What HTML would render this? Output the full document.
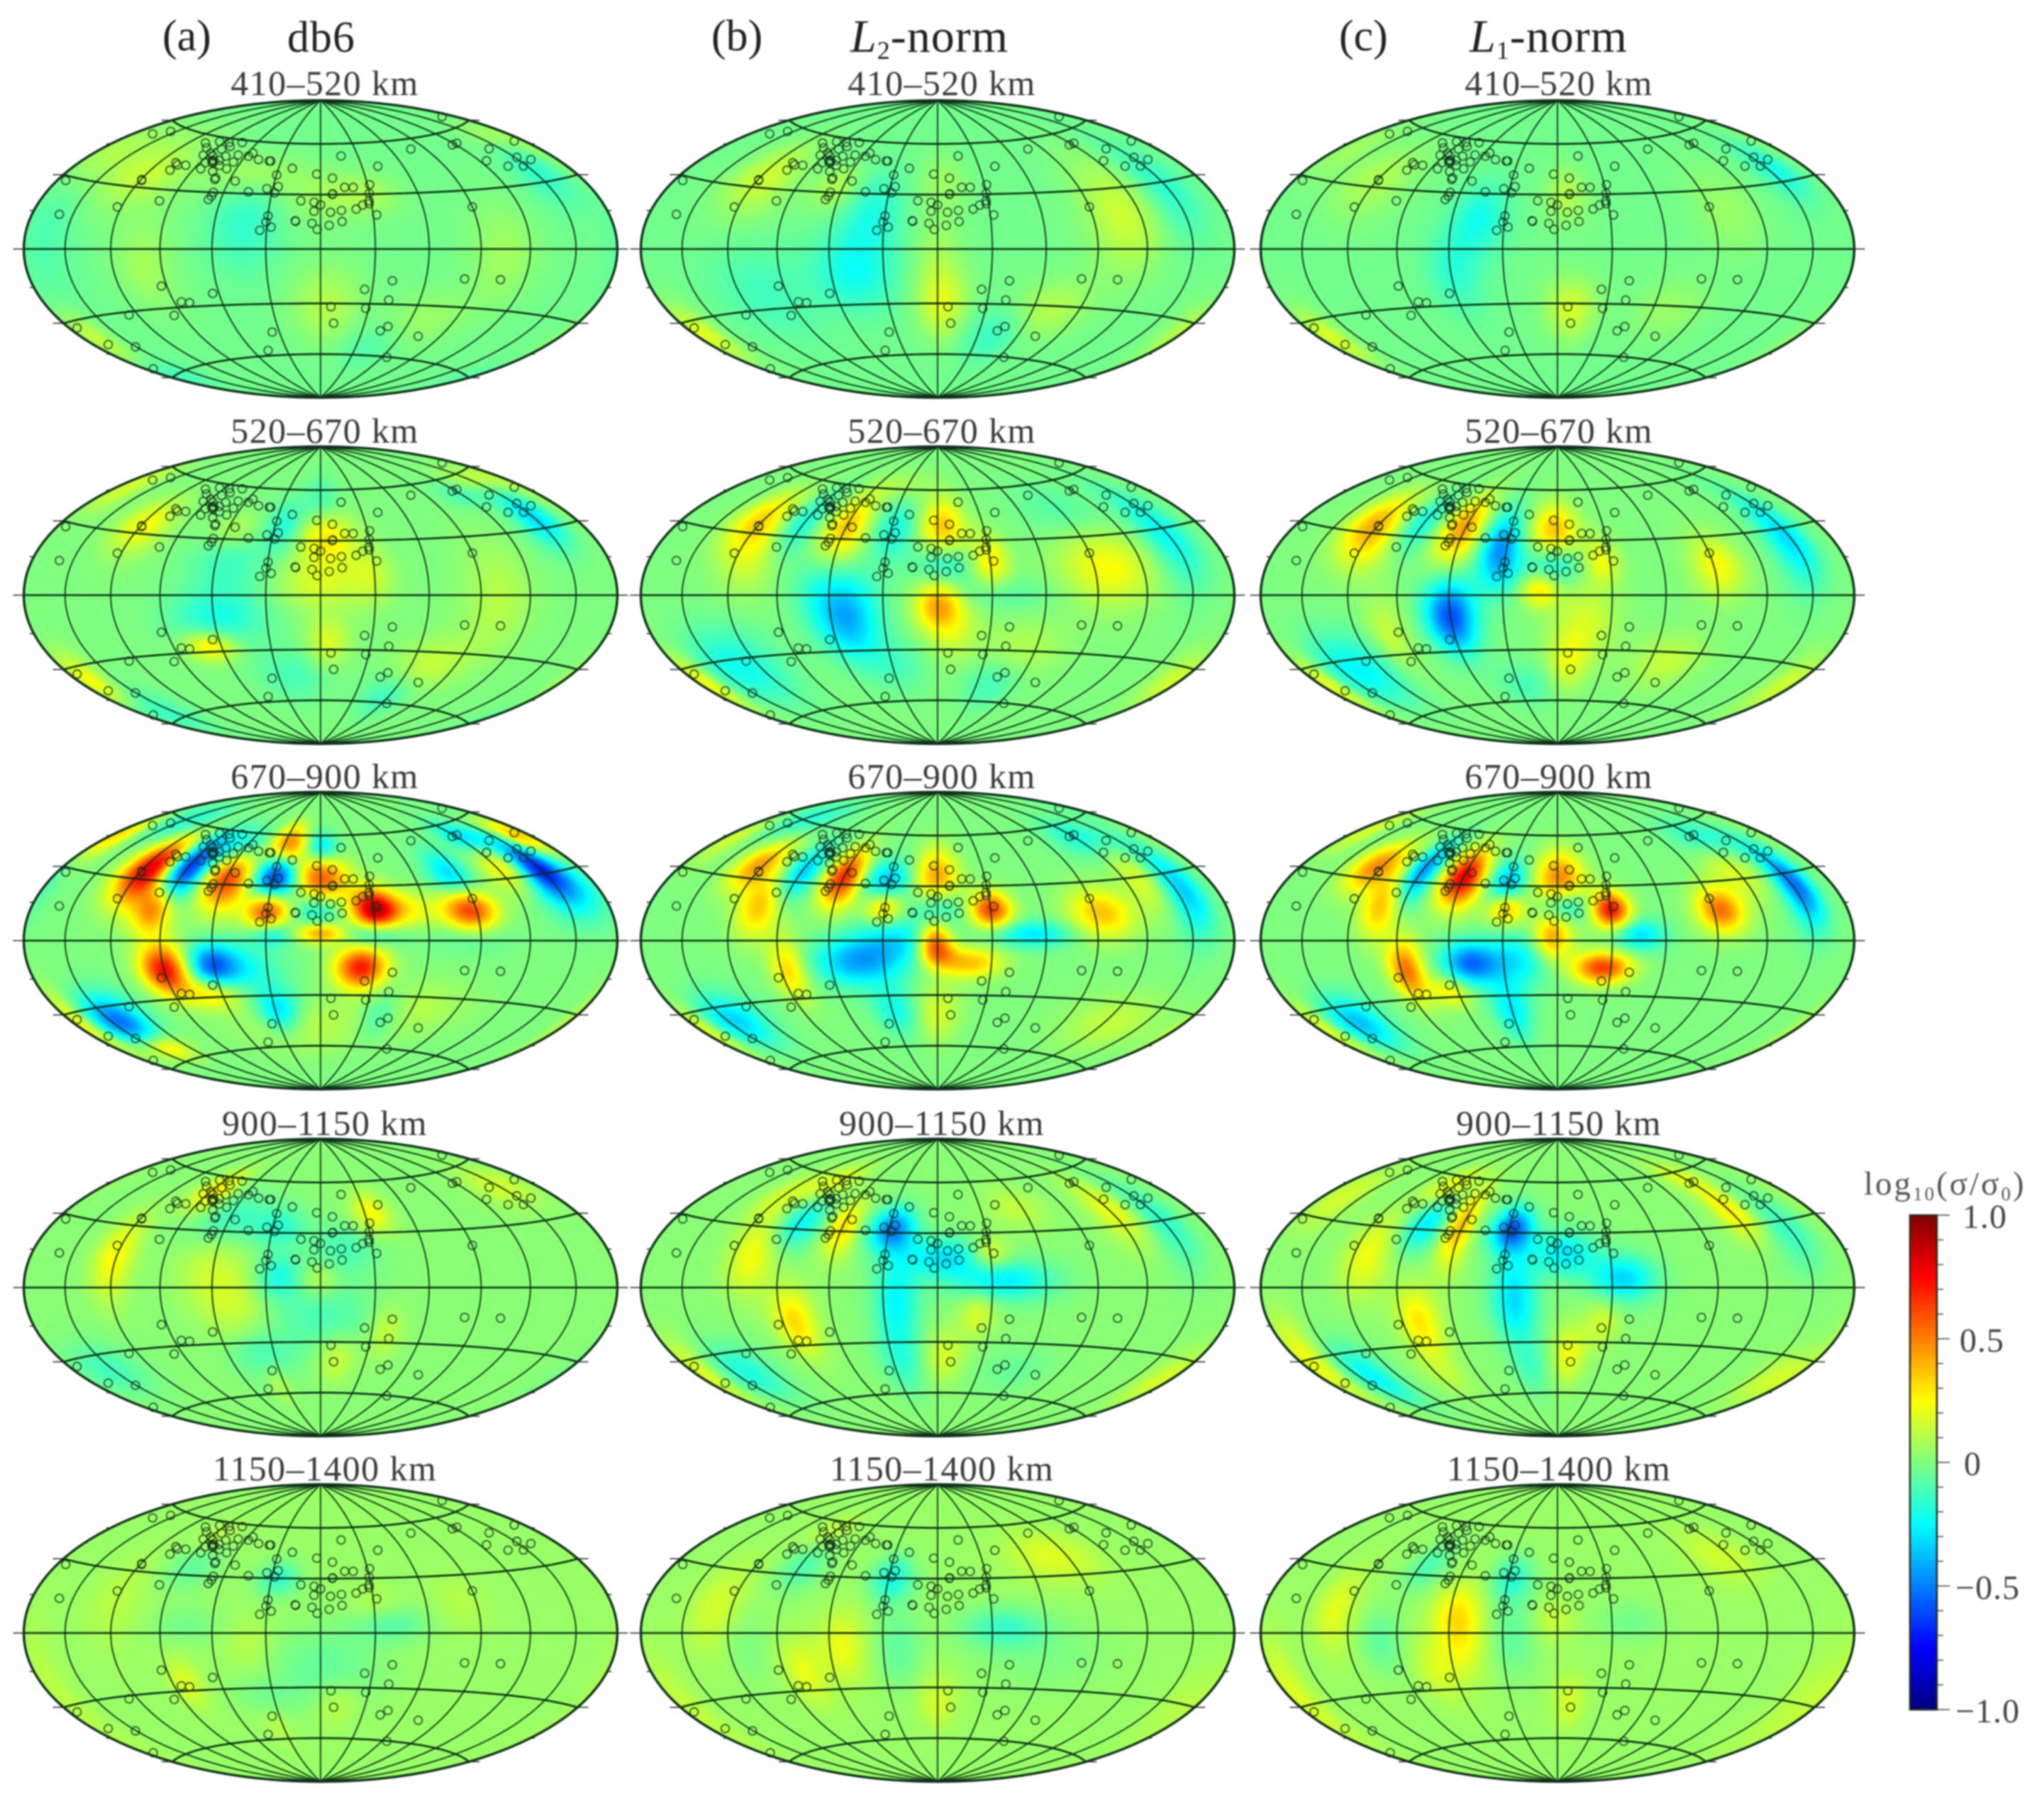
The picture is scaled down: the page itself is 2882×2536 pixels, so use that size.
<!DOCTYPE html>
<html lang="en">
<head>
<meta charset="utf-8">
<title>Conductivity anomaly maps</title>
<style>
html,body{margin:0;padding:0;background:#fff;}
#figure{position:relative;width:2882px;height:2536px;overflow:hidden;background:#fff;filter:blur(1.1px);}
#figure canvas{position:absolute;display:block;}
#overlay{position:absolute;left:0;top:0;}
text{font-family:"Liberation Serif",serif;}
</style>
</head>
<body>
<div id="figure">
<svg id="overlay" width="2882" height="2536" viewBox="0 0 2882 2536">
  <g fill="#222" font-size="62">
    <text x="229" y="71">(a)</text>
    <text x="405" y="73" letter-spacing="1">db6</text>
    <text x="1003" y="71">(b)</text>
    <text x="1199" y="73" font-size="66" letter-spacing="1"><tspan font-style="italic">L</tspan><tspan dy="10" font-size="36">2</tspan><tspan dy="-10">-norm</tspan></text>
    <text x="1888" y="71">(c)</text>
    <text x="2072" y="73" font-size="66" letter-spacing="1"><tspan font-style="italic">L</tspan><tspan dy="10" font-size="36">1</tspan><tspan dy="-10">-norm</tspan></text>
  </g>
  <g id="maps"></g>
  <g id="colorbar">
    <text x="2628" y="1684" font-size="47" letter-spacing="3" fill="#555">log<tspan dy="8" font-size="27">10</tspan><tspan dy="-8">(σ/σ</tspan><tspan dy="8" font-size="27">0</tspan><tspan dy="-8">)</tspan></text>
  </g>
</svg>
</div>
<script>
// ---- Figure data ----
const depthLabels = ['410–520 km','520–670 km','670–900 km','900–1150 km','1150–1400 km'];
const methodNames = ['db6','l2','l1'];
const meridianLons = [-150,-120,-90,-60,-30,0,30,60,90,120,150];
const parallelLats = [-60,-30,0,30,60];
const frameTickLats = [-75,-60,-45,-30,-15,0,15,30,45,60,75];
const colorbarTickValues = [-1,-0.9,-0.8,-0.7,-0.6,-0.5,-0.4,-0.3,-0.2,-0.1,0,0.1,0.2,0.3,0.4,0.5,0.6,0.7,0.8,0.9,1];
const colorbarLabelValues = [1,0.5,0,-0.5,-1];
const colorbarLabels = ['1.0','0.5','0','−0.5','−1.0'];

// Observatories, degrees relative to the central meridian
const stationLon = [-164.5,-155,-173.5,-119.5,-119,-159.6,-122.6,-97.7,-107.8,-106.2,-104.6,-98.4,-105.6,-98.6,-95.2,-86,-80.4,-74,-84.8,-90,-93.6,-75.4,-85.6,-82.4,-80.4,-86,-77.4,-66.4,-57.6,-56,-65.6,-66.8,-73.8,-85.2,-75.2,-70.2,-70,-47.8,-39,-38,-81,-82,-56,-44.6,-66.4,-66.6,-67.6,-33.6,-26.8,-29.8,-28.2,-20.2,-2.6,7.9,16.5,41.6,15.2,20.6,7.2,7.4,31.4,29.8,28.8,28.6,24.7,20.6,32,-11.7,-3.8,0,-3.8,5.7,12,12.1,4.8,-4.8,-1.9,-14.2,-14,-29.9,-30.6,-27.5,-33.7,77.7,169,122.8,117,140.8,172,125.2,136,151.5,147.4,159.6,90,-93.3,-63.8,-85.4,-80.5,-126,-95.7,-173.9,-168.5,-150.6,-173.6,-35.3,-46.6,6.4,8.9,28.2,25.5,40.8,41.1,43,47,73.6,64.6,82.7,104.7];
const stationLat = [53.6,56.8,28.2,33.8,33.4,14.6,19.9,24.2,43.9,39.9,42.9,43.2,55.7,53.3,57.5,57.8,55.6,58.5,53.6,51,49.3,50.1,49.5,47.3,45.9,45.6,47.6,51.3,51.1,53.1,47.2,43.2,44.7,42.1,41.2,37.9,37,49.4,48.9,48.9,47,46.5,36.7,31,30.1,28,26.1,33,34.3,40.9,30.8,45,41.7,39.4,52.4,45.7,34.1,34,30.1,30.4,35.4,30.5,26.3,24.7,24,21.8,18.5,26.5,25.7,24.2,20.7,20.1,21.1,15,12.9,14,10.7,15.4,15.1,18,14.6,11.9,10.1,54.2,65.2,53.7,53.4,48.2,48,43.3,39.3,42.1,38.1,39.9,21.4,-18.7,-23.5,-27.2,-27.9,-31.5,-33.9,-32.9,-41.8,-45.6,-55,-46.1,-56.8,-31.9,-41.3,-32.6,-22,-17.1,-27.7,-45.1,-42.5,-46.9,-60.2,-15.3,-15.1];

// Background log10 value per depth row
const rowBaseValues = [-0.025,0,0,0.02,0.05];
// Per-row adjustment of anomaly breadth and strength
const rowLonSpreadScale = [1.8,1.8,1.25,1.8,1.8];
const rowLatSpreadScale = [1.1,1.1,1,1.1,1.1];
const rowAmplitudeScale = [.65,.75,.88,.72,.55];

// Anomalies: [lon deg, lat deg, log10 amplitude, lon spread deg, lat spread deg]
const anomaliesDb6_410 = [[-130,41,.18,16,14],[-170,42,.15,8,10],[-118,35,.1,8,8],[-45,41,.17,12,8],[-43,14,-.2,8,16],[0,29,.12,10,10],[28,30,.15,8,7],[153,35,-.22,7,10],[158,52.7,.15,8,6],[104,-2,.14,8,16],[-100,-8,.15,7,14],[3,-31,.2,8,14],[69,-37.7,.12,10,10],[-170,-38.4,.25,5,8],[-170,-60,-.15,10,6],[-165,10,-.12,8,20],[40,-55,-.1,10,8]];
const anomaliesL2_410 = [[-47,-12.5,-.3,9,13],[-38,19.5,-.25,7,14],[3,-31,.28,6,12],[0,-7,.15,5,18],[108,16.4,.27,9,18],[148,27.7,-.22,7,14],[-117,35,.28,9,12],[-64,32.8,.2,6,8],[3,38,.12,6,10],[71,-32,.2,9,10],[-170,-37,.28,5,8],[-104,-22,-.15,12,15],[175,-33,.15,6,8],[40,-48,-.18,8,10]];
const anomaliesL1_410 = [[-44,17,-.28,6,12],[-58,-11,-.22,6,14],[8,-33,.3,6,11],[5,30,.2,5,10],[70,-32,.12,9,10],[155,35,-.28,6,9],[100,20,.12,8,14],[-122,34,.18,10,12],[-170,45,.13,7,10],[-170,-38,.32,5,8]];

const anomaliesDb6_520 = [[-118.7,34.3,.33,7,9],[-172,47,.2,6,8],[-53,19,-.18,9,14],[-55,35,.2,7,7],[-24,38,-.25,5,9],[3,32,.42,7,10],[-1,6,.22,9,9],[28,11,.18,5,10],[0,52,-.18,6,10],[-58,-12,-.25,11,9],[-67,-27,.42,6,5],[4,-26,.25,5,9],[72,-36.5,.18,9,9],[-170,-37,.33,5,8],[150,35,-.42,6,9],[150,56,.2,12,5],[122,52,-.2,8,5],[55,-56,-.18,8,8],[-160,-55,-.2,10,8],[-20,-44,-.15,10,10],[100,-2,.15,8,18]];
const anomaliesL2_520 = [[-124,36.6,.4,7,10],[-110,20,.22,7,12],[-60,36,.5,6,12],[-92,37,-.3,5,11],[-28,36,-.28,6,11],[3,37,.5,6,11],[3,17,-.35,6,8],[30,19,.38,4,9],[98,14,.33,11,12],[148,28,-.33,7,15],[-51,-11.4,-.55,7,14],[-68,6,-.15,6,14],[0,-4,.55,5,9],[8,-18,.2,6,12],[50,-30,.15,10,10],[-134,-33.8,-.3,12,12],[-28,-38,-.15,8,10],[40,-48,-.18,8,10],[-172,-38,.28,4,8],[-35,62,.12,12,6],[90,45,-.12,12,10],[172,-35,.2,6,8],[30,1,-.12,14,6]];
const anomaliesL1_520 = [[-126,36,.42,7,10],[-115,25,.25,7,10],[-92,37,-.3,5,10],[-62,36,.58,5.5,12],[-34,30,-.42,5,12],[-33,17,-.3,5,11],[-2,36,.5,6,10],[-2,17,-.33,6,7],[25,19,.3,4,8],[92,15,.33,6,10],[147,26,-.42,6,14],[-60,-14.5,-.65,5.5,11],[-60,-2,-.25,6,10],[-10,3,.4,4,6],[15,-15,.22,7,14],[6,-37,.25,5,10],[-138,-35,-.35,11,11],[-100,-20,.2,5,12],[-172,-38,.3,4,8],[170,-38,.2,5,9],[70,-35,.18,9,9],[-25,-50,-.15,8,8]];

const anomaliesDb6_670 = [[-115,35,.95,10,12],[-91,36.4,-.85,8,12],[-59,33.4,.72,9,12],[-28.5,34.9,-.9,8,11],[0,34.6,.68,10,12],[-27.6,53,.75,9,9],[0,52,-.5,8,7],[-62.6,51.7,-.35,14,8],[-96.4,16.2,.6,7,9],[-30,17.1,.85,7,8],[30,17,.9,7,8],[46,17,.3,11,7],[85.7,16.1,.8,9,8],[-2,17.9,-.4,8,7],[0,4.3,.5,8,4],[-27,4,-.35,7,5],[28,4,-.35,9,5],[85,3,-.15,12,6],[-90,-14.6,.85,8,9],[-61.8,-12.7,-.55,8,8],[-45,-15,-.25,12,9],[22.4,-14.4,.8,8,8],[-66,-27.9,.35,10,6],[-28,-38.2,-.4,8,9],[-144,-37.4,-.6,12,9],[-140,-52.2,.4,12,5],[-175,-35,.3,6,10],[123.6,51.5,-.4,10,7],[124,36.7,.35,9,9],[148,34,-.7,9,10],[168,47,.45,8,7],[84,32.9,-.4,8,10],[-172,47,.3,6,9],[160,22,-.3,12,10],[-150,60,-.2,20,8],[-10,-48,.12,30,12],[60,-35,.12,20,10],[40,-40,-.2,8,10]];
const anomaliesL2_670 = [[-124,36.6,.5,9,9],[-104,17.3,.42,8,11],[-90,35.2,-.42,7,11],[-60,34,.78,7,11],[-32,33.5,-.4,9,8],[-1,35,.5,8,12],[-31,18,.4,6,6],[0,19,-.3,8,7],[30,17,.72,6.5,7],[94,14,.42,11,9],[155,22.3,-.4,8,14],[-45,-11.6,-.45,14,9],[-22,0,-.3,14,9],[52,3.6,-.33,13,5],[-2,1,.55,5,7],[18,-11.8,.42,10,6],[0,-7,.4,6,6],[-86,-14.7,.38,6,11],[-144,-37,-.38,13,9],[-28,-38,-.25,8,10],[0,-40,.2,8,12],[-150,62,-.2,20,8],[-172,47,.2,6,10],[-175,-38,.25,6,8],[124,52,-.25,14,8],[130,30,.2,8,12],[125,-40,.15,20,10]];
const anomaliesL1_670 = [[-124,36,.55,10,9],[-103,17,.42,7,11],[-90,36,-.55,6,12],[-60,34,.9,7.5,11],[-31,33,-.42,7,8],[1,35,.55,9,11],[-29,17,.42,6,6],[4,19,-.33,8,6],[30,17,.85,6,7],[94,15.5,.6,8,8],[152,24.8,-.6,7,13],[116,33.4,.22,10,10],[-3,2,.5,6,9],[45,3,-.35,8,6],[25,-14.5,.72,9,6],[-87,-15,.6,6,11],[-65,-27,.3,7,6],[-49,-12,-.6,9,8],[-22,-10,-.3,10,10],[-30,-38,-.32,7,12],[-143,-38,-.42,12,9],[-175,-38,.25,6,9],[-172,50,.2,6,9],[124,52,-.22,14,8]];

const anomaliesDb6_900 = [[-121.5,14.6,.33,5,13],[-87,51.6,.4,6,8],[-58,37.5,-.22,11,9],[34,41,.32,5,8],[-24,6,-.3,5,8],[-25,33,-.22,6,7],[14,22,-.18,8,9],[-1,4,.18,4,6],[-48,-11,.17,8,13],[-62,10,.15,8,12],[1,-16,-.18,11,13],[-38,-37,-.2,8,10],[10,-39,.2,5,9],[38,-24,.18,4,9],[-153,-37,-.2,10,8],[150,48,.2,10,7],[-35,-53,.15,4,8]];
const anomaliesL2_900 = [[-28,32,-.7,5.5,8],[-89,33.5,-.38,6,9],[-60,32,.42,4,10],[-93,56.6,.28,7,7],[-120,45,.2,6,10],[-108,15.6,.3,6,12],[3,17,-.42,8,7],[30,18,.28,4,6],[36,4,-.42,11,7],[-23,-7,-.38,5,17],[-83,-17.6,.42,5,11],[22,-14,.22,4,8],[120.6,37.7,.28,6,11],[55,44,.15,8,8],[150,30,-.25,6,14],[-140,-40,-.3,9,9],[-25,-42,-.2,6,12],[4,-38,.22,5,9],[55,-45,-.1,10,8],[170,-40,.18,6,8],[-172,-35,.22,5,9]];
const anomaliesL1_900 = [[-28,32,-.82,5,8],[-85,33,-.42,5,9],[-62,33,.5,3.5,14],[-92,55,.3,7,7],[-112,16,.28,6,13],[4,19,-.42,7,8],[36,5,-.48,7,8],[-24,3,-.33,5,13],[-24,-14,-.25,5,10],[-80,-18,.38,5,12],[25,-19,.2,4,9],[7,-37,.3,4,10],[120,38,.38,5,9],[120,58,.2,8,6],[148,26,-.22,6,12],[-140,-42,-.38,7,10],[-170,-30,.28,5,12],[-165,40,.2,7,10],[165,-40,.2,7,8],[-85,-45,.12,6,8],[-20,-42,-.2,5,12]];

const anomaliesDb6_1150 = [[-84,34.6,-.2,7,8],[-26,30,-.38,5,6],[-87,52,.14,5,6],[-121,16,.12,7,14],[38,5,-.25,8,6],[-75,4,-.13,8,6],[3,-19,-.2,12,14],[-82,-25.7,.25,4,8],[-40,-5,.12,5,9],[10,-39,.17,5,9],[80,16,.1,6,9],[30,14,.12,5,7],[-35,-52,.12,4,7],[-172,-25,.12,5,20],[-35,-35,-.12,8,7]];
const anomaliesL2_1150 = [[-28,30,-.48,5,8],[-88,34,-.27,6,8],[79,40.8,.25,12,9],[-93,56,.16,6,6],[36,3,-.33,9,7],[-53,-7,.3,5,12],[-78,-20,.28,5,11],[-129,10.6,.22,7,14],[-22,-8,-.2,5,14],[0,-38,.22,5,10],[-112,-5,-.13,6,12],[60,-12,-.1,15,12],[165,-30,.1,6,10],[-172,-30,.14,5,15]];
const anomaliesL1_1150 = [[-28,30,-.4,5,8],[-85,35,-.28,5,8],[-53,0,.38,5,14],[-60,12,.22,5,9],[-70,-19,.22,5,11],[-130,10,.27,5,12],[113.6,38.5,.2,9,9],[-100,-4,-.2,5,10],[-25,-2,-.2,5,14],[-2,7,.18,4,7],[40,6,-.14,7,7],[7,-38,.22,4,10],[-172,-25,.22,5,15],[165,-30,.13,7,15]];

const panelAnomalies = [
  [anomaliesDb6_410,anomaliesL2_410,anomaliesL1_410],
  [anomaliesDb6_520,anomaliesL2_520,anomaliesL1_520],
  [anomaliesDb6_670,anomaliesL2_670,anomaliesL1_670],
  [anomaliesDb6_900,anomaliesL2_900,anomaliesL1_900],
  [anomaliesDb6_1150,anomaliesL2_1150,anomaliesL1_1150]
];

// ---- Layout ----
const NS = 'http://www.w3.org/2000/svg';
const RX = 418.5, RY = 209.5;
const columnCentersX = [452,1322,2196];
const rowCentersY = [351,839,1326,1815,2302];
const labelOffsetX = [6,6,2];
const BAR = {left:2693,right:2731,top:1713,bottom:2410};
const RAD = Math.PI/180;

// ---- Axis functions ----
function projectX(lon,lat,cx){
  const l = lon*RAD/2, p = lat*RAD;
  return cx + RX*Math.cos(p)*Math.sin(l)/Math.sqrt(1+Math.cos(p)*Math.cos(l));
}
function projectY(lon,lat,cy){
  const l = lon*RAD/2, p = lat*RAD;
  return cy - RY*Math.sin(p)/Math.sqrt(1+Math.cos(p)*Math.cos(l));
}
function barY(v){ return BAR.top + (1-v)/2*(BAR.bottom-BAR.top); }

const jetStops = [[0,0,0,127],[.125,0,0,255],[.375,0,255,255],[.625,255,255,0],[.875,255,0,0],[1,127,0,0]];
function jet(v){
  let t = (v+1)/2;
  t = Math.max(0,Math.min(1,t));
  for(let i=1;i<jetStops.length;i++){
    if(t<=jetStops[i][0]){
      const a=jetStops[i-1], b=jetStops[i], f=(t-a[0])/(b[0]-a[0]);
      return [a[1]+(b[1]-a[1])*f, a[2]+(b[2]-a[2])*f, a[3]+(b[3]-a[3])*f];
    }
  }
  return [127,0,0];
}

function drawHeat(canvas,anomalies,base,lonScale,latScale,ampScale){
  const w = canvas.width, h = canvas.height, ctx = canvas.getContext('2d');
  const img = ctx.createImageData(w,h), d = img.data;
  for(let j=0;j<h;j++){
    const y = 1-2*(j+.5)/h;
    for(let i=0;i<w;i++){
      const x = 2*(i+.5)/w-1, r2 = x*x+y*y;
      if(r2>1) continue;
      const s = Math.sqrt(2-r2);
      const lat = Math.asin(Math.max(-1,Math.min(1,y*s)))/RAD;
      const lon = 2*Math.atan2(x*s,1-r2)/RAD;
      let v = base;
      for(const a of anomalies){
        let dl = lon-a[0];
        if(dl>180) dl-=360;
        if(dl<-180) dl+=360;
        const u = dl/(a[3]*lonScale), t = (lat-a[1])/(a[4]*latScale), e = u*u+t*t;
        if(e<16) v += ampScale*a[2]*Math.exp(-.5*e);
      }
      const c = jet(v), k = 4*(j*w+i);
      d[k]=c[0]; d[k+1]=c[1]; d[k+2]=c[2]; d[k+3]=255;
    }
  }
  ctx.putImageData(img,0,0);
}

function pathFrom(points){
  return 'M'+points.map(p=>p[0].toFixed(1)+' '+p[1].toFixed(1)).join('L');
}

// ---- Build panels ----
const figure = document.getElementById('figure');
const overlay = document.getElementById('overlay');
const mapsGroup = document.getElementById('maps');

depthLabels.forEach(function(depth,r){
  methodNames.forEach(function(method,c){
    const cx = columnCentersX[c], cy = rowCentersY[r];
    const id = method+'-'+depth.split('–')[0];

    const canvas = document.createElement('canvas');
    canvas.width = 420;
    canvas.height = 210;
    canvas.style.left = (cx-RX)+'px';
    canvas.style.top = (cy-RY)+'px';
    canvas.style.width = (2*RX)+'px';
    canvas.style.height = (2*RY)+'px';
    
    
    figure.insertBefore(canvas,overlay);
    drawHeat(canvas,panelAnomalies[r][c],rowBaseValues[r],rowLonSpreadScale[r],rowLatSpreadScale[r],rowAmplitudeScale[r]);

    const g = document.createElementNS(NS,'g');
    
    
    mapsGroup.appendChild(g);

    const label = document.createElementNS(NS,'text');
    
    
    label.setAttribute('x',cx+labelOffsetX[c]);
    label.setAttribute('y',cy-(r===0?217:215));
    label.setAttribute('text-anchor','middle');
    label.setAttribute('font-size','50');
    label.setAttribute('letter-spacing','1.4');
    label.setAttribute('fill','#3a3a3a');
    label.textContent = depth;
    g.appendChild(label);

    meridianLons.forEach(function(lon){
      const pts = [];
      for(let lat=-90;lat<=90;lat+=3) pts.push([projectX(lon,lat,cx),projectY(lon,lat,cy)]);
      const m = document.createElementNS(NS,'path');
      
      
      m.setAttribute('d',pathFrom(pts));
      m.setAttribute('fill','none');
      m.setAttribute('stroke','#0c2f18');
      m.setAttribute('stroke-width','1.8');
      g.appendChild(m);
    });
    parallelLats.forEach(function(lat){
      const pts = [];
      for(let lon=-180;lon<=180;lon+=4) pts.push([projectX(lon,lat,cx),projectY(lon,lat,cy)]);
      const pl = document.createElementNS(NS,'path');
      
      
      pl.setAttribute('d',pathFrom(pts));
      pl.setAttribute('fill','none');
      pl.setAttribute('stroke','#0c2f18');
      pl.setAttribute('stroke-width','2.6');
      g.appendChild(pl);
    });
    frameTickLats.forEach(function(lat){
      [-180,180].forEach(function(lon){
        const x0 = projectX(lon,lat,cx), y0 = projectY(lon,lat,cy);
        const len = (lat%30===0) ? 15 : 6;
        const t = document.createElementNS(NS,'line');
        
        
        t.setAttribute('x1',x0);
        t.setAttribute('y1',y0);
        t.setAttribute('x2',x0+(lon<0?-len:len));
        t.setAttribute('y2',y0);
        t.setAttribute('stroke','#333');
        t.setAttribute('stroke-width','1.6');
        g.appendChild(t);
      });
    });

    const outline = document.createElementNS(NS,'ellipse');
    
    
    outline.setAttribute('cx',cx);
    outline.setAttribute('cy',cy);
    outline.setAttribute('rx',RX);
    outline.setAttribute('ry',RY);
    outline.setAttribute('fill','none');
    outline.setAttribute('stroke','#10301a');
    outline.setAttribute('stroke-width','3.4');
    g.appendChild(outline);

    stationLon.forEach(function(lon,i){
      const st = document.createElementNS(NS,'circle');
      
      
      st.setAttribute('cx',projectX(lon,stationLat[i],cx).toFixed(1));
      st.setAttribute('cy',projectY(lon,stationLat[i],cy).toFixed(1));
      st.setAttribute('r','5.8');
      st.setAttribute('fill','none');
      st.setAttribute('stroke','#14301e');
      st.setAttribute('stroke-width','1.4');
      g.appendChild(st);
    });
  });
});

// ---- Colorbar ----
const barGroup = document.getElementById('colorbar');
const defs = document.createElementNS(NS,'defs');
const grad = document.createElementNS(NS,'linearGradient');
grad.setAttribute('id','jetGradient');
grad.setAttribute('x1','0');
grad.setAttribute('y1','0');
grad.setAttribute('x2','0');
grad.setAttribute('y2','1');
jetStops.slice().reverse().forEach(function(s){
  const stop = document.createElementNS(NS,'stop');
  stop.setAttribute('offset',1-s[0]);
  stop.setAttribute('stop-color','rgb('+s[1]+','+s[2]+','+s[3]+')');
  grad.appendChild(stop);
});
defs.appendChild(grad);
barGroup.appendChild(defs);

const barRect = document.createElementNS(NS,'rect');


barRect.setAttribute('x',BAR.left);
barRect.setAttribute('y',BAR.top);
barRect.setAttribute('width',BAR.right-BAR.left);
barRect.setAttribute('height',BAR.bottom-BAR.top);
barRect.setAttribute('fill','url(#jetGradient)');
barRect.setAttribute('stroke','#2a2a1e');
barRect.setAttribute('stroke-width','2.5');
barGroup.appendChild(barRect);

colorbarTickValues.forEach(function(v){
  const major = colorbarLabelValues.indexOf(v)>=0;
  const tick = document.createElementNS(NS,'line');
  
  
  tick.setAttribute('x1',BAR.right);
  tick.setAttribute('x2',BAR.right+(major?18:9));
  tick.setAttribute('y1',barY(v));
  tick.setAttribute('y2',barY(v));
  tick.setAttribute('stroke','#444');
  tick.setAttribute('stroke-width','1.5');
  barGroup.appendChild(tick);
});
const colorbarLabelX = [2767,2763,2769,2757,2757];
colorbarLabels.forEach(function(txt,i){
  const t = document.createElementNS(NS,'text');
  
  
  t.setAttribute('x',colorbarLabelX[i]);
  t.setAttribute('y',barY(colorbarLabelValues[i])+18);
  t.setAttribute('font-size','48');
  t.setAttribute('letter-spacing','1');
  t.setAttribute('fill','#444');
  t.textContent = txt;
  barGroup.appendChild(t);
});
</script>
</body>
</html>
